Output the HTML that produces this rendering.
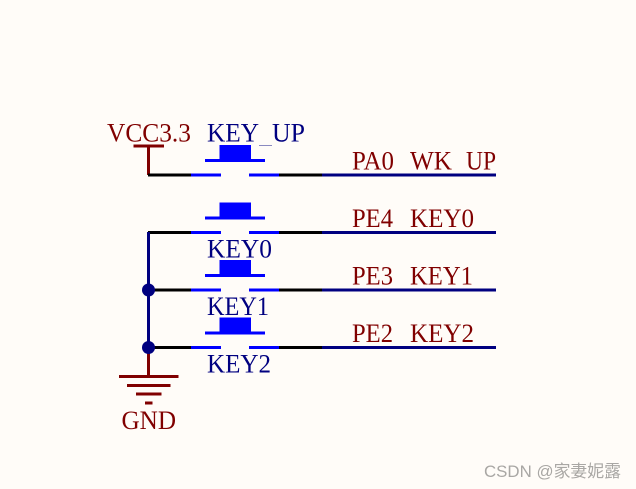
<!DOCTYPE html>
<html><head><meta charset="utf-8"><style>
html,body{margin:0;padding:0;background:#fffcf8;width:636px;height:489px;overflow:hidden}
svg{display:block}
text{font-family:"Liberation Serif",serif;font-size:26.5px}
.m{fill:#800000}.n{fill:#000080}
.k{stroke:#000;stroke-width:3}.b{stroke:#0000ff;stroke-width:3}.w{stroke:#000080;stroke-width:3}.r{stroke:#800000;stroke-width:3}
</style></head><body>
<svg width="636" height="489" viewBox="0 0 636 489" xmlns="http://www.w3.org/2000/svg">
<rect width="636" height="489" fill="#fffcf8"/>
<!-- VCC -->
<path class="r" fill="none" d="M133.500 146H164M148.500 146V175"/>
<!-- Wires rows -->
<path class="k" d="M148 175H191M148 232.500H191M148 290H191M148 347.500H191M279 175H322M279 232.500H322M279 290H322M279 347.500H322"/>
<path class="b" d="M191 175H221M249 175H279M191 232.500H221M249 232.500H279M191 290H221M249 290H279M191 347.500H221M249 347.500H279"/>
<path class="w" d="M322 175H496M322 232.500H496M322 290H496M322 347.500H496M148.500 232V347.500"/>
<!-- Button caps -->
<g fill="#0000ff">
<rect x="219.500" y="145" width="31.500" height="16"/><rect x="205" y="159" width="60" height="3"/>
<rect x="219.500" y="202.500" width="31.500" height="16"/><rect x="205" y="216.500" width="60" height="3"/>
<rect x="219.500" y="260" width="31.500" height="16"/><rect x="205" y="274" width="60" height="3"/>
<rect x="219.500" y="317.500" width="31.500" height="16"/><rect x="205" y="331.500" width="60" height="3"/>
</g>
<!-- GND -->
<path class="r" d="M148.500 348V377M119 376.500H178.500M127 385.500H170.500M136 394H161.500M145 403H152.500"/>
<!-- Junctions -->
<circle cx="148.500" cy="290" r="6.500" fill="#000080"/>
<circle cx="148.500" cy="347.500" r="6.500" fill="#000080"/>
<!-- Labels -->
<text class="m" x="107" y="141.500" textLength="84" lengthAdjust="spacingAndGlyphs">VCC3.3</text>
<text class="n" x="207" y="141.500" textLength="52" lengthAdjust="spacingAndGlyphs">KEY</text>
<rect x="259" y="145" width="13" height="1" fill="#8a8ac0"/>
<text class="n" x="272" y="141.500" textLength="33" lengthAdjust="spacingAndGlyphs">UP</text>
<text class="n" x="207" y="257.500" textLength="65" lengthAdjust="spacingAndGlyphs">KEY0</text>
<text class="n" x="207" y="315" textLength="62" lengthAdjust="spacingAndGlyphs">KEY1</text>
<text class="n" x="207" y="372.500" textLength="64" lengthAdjust="spacingAndGlyphs">KEY2</text>
<text class="m" x="121.500" y="429" textLength="54.500" lengthAdjust="spacingAndGlyphs">GND</text>
<text class="m" x="352" y="169.500" textLength="42" lengthAdjust="spacingAndGlyphs">PA0</text><text class="m" x="410" y="169.500" textLength="42" lengthAdjust="spacingAndGlyphs">WK</text><text class="m" x="466" y="169.500" textLength="30" lengthAdjust="spacingAndGlyphs">UP</text>
<text class="m" x="352" y="227" textLength="41" lengthAdjust="spacingAndGlyphs">PE4</text><text class="m" x="410" y="227" textLength="64" lengthAdjust="spacingAndGlyphs">KEY0</text>
<text class="m" x="352" y="284.500" textLength="41" lengthAdjust="spacingAndGlyphs">PE3</text><text class="m" x="410" y="284.500" textLength="63" lengthAdjust="spacingAndGlyphs">KEY1</text>
<text class="m" x="352" y="342" textLength="41" lengthAdjust="spacingAndGlyphs">PE2</text><text class="m" x="410" y="342" textLength="64" lengthAdjust="spacingAndGlyphs">KEY2</text>
<text x="484" y="477" textLength="137" lengthAdjust="spacingAndGlyphs" style="font-family:'Liberation Sans','Noto Sans CJK SC',sans-serif;font-size:17px" fill="#a9a7a4">CSDN @家妻妮露</text>
</svg>
</body></html>
